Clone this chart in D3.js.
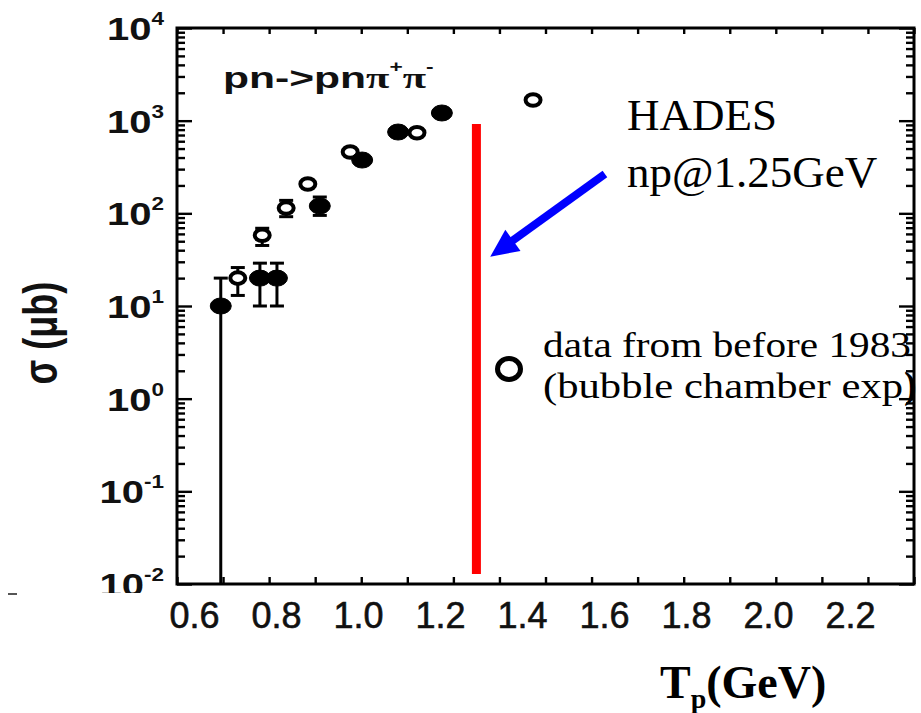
<!DOCTYPE html>
<html>
<head>
<meta charset="utf-8">
<script src="https://cdn.jsdelivr.net/npm/d3@7"></script>
<style>
  body { margin: 0; background: #fff; }
  svg { display: block; }
</style>
</head>
<body>
<svg id="chart" width="921" height="713"></svg>
<script>
// pn -> pn pi+ pi- total cross section vs beam kinetic energy

// open circles: bubble chamber data (before 1983)
const openT  = [0.732, 0.785, 0.837, 0.884, 0.976, 1.121, 1.373];
const openS  = [20, 58, 114, 207, 459, 740, 1670];
const openLo = [13, 45, 92, 207, 459, 740, 1670];
const openHi = [26, 69, 138, 207, 459, 740, 1670];

// filled circles: other measurements
const filledT  = [0.695, 0.780, 0.817, 0.910, 1.002, 1.080, 1.175];
const filledS  = [10, 20, 20, 120, 376, 754, 1210];
const filledLo = [0.01, 10, 10, 95, 376, 754, 1210];
const filledHi = [20, 29, 29, 150, 376, 754, 1210];

// HADES beam energy marker
const hadesT = 1.25;
const hadesRange = [0.0128, 920];
// arrow pointing at the marker: [T, sigma] of tail and tip
const arrowTail = [1.529, 265];
const arrowTip  = [1.280, 34];

// axis ticks
const xMinorTicks = [0.6,0.7,0.8,0.9,1.0,1.1,1.2,1.3,1.4,1.5,1.6,1.7,1.8,1.9,2.0,2.1,2.2];
const xTickLabels = [0.6, 0.8, 1.0, 1.2, 1.4, 1.6, 1.8, 2.0, 2.2];
const yDecades = [-2, -1, 0, 1, 2, 3, 4];

const svg = d3.select("#chart");

const x = d3.scaleLinear().domain([0.6, 2.2]).range([177, 914]);
const xLab = d3.scaleLinear().domain([0.6, 2.2]).range([194, 850]);
const y = d3.scaleLog().domain([1e-2, 1e4]).range([584, 28]);

const yMinor = [];
yDecades.slice(0, -1).forEach(d => {
  for (let k = 2; k <= 9; k++) yMinor.push(k * Math.pow(10, d));
});
const yMajor = yDecades.map(d => Math.pow(10, d));

const plotL = x.range()[0], plotR = x.range()[1];
const plotT = y.range()[1], plotB = y.range()[0];

// tick marks on all four sides, pointing inward
function ticks(g) {
  g.select(".domain").remove();
  g.selectAll("line").attr("stroke", "#000").attr("stroke-width", 2.4);
}
svg.append("g").attr("transform", `translate(0,${plotB})`)
  .call(d3.axisBottom(x).tickValues(xMinorTicks).tickSize(-7).tickFormat(""))
  .call(ticks);
svg.append("g").attr("transform", `translate(0,${plotT})`)
  .call(d3.axisTop(x).tickValues(xMinorTicks).tickSize(-6).tickFormat(""))
  .call(ticks);
[[d3.axisLeft, plotL], [d3.axisRight, plotR]].forEach(([ax, px]) => {
  svg.append("g").attr("transform", `translate(${px},0)`)
    .call(ax(y).tickValues(yMajor).tickSize(-15).tickFormat(""))
    .call(ticks);
  svg.append("g").attr("transform", `translate(${px},0)`)
    .call(ax(y).tickValues(yMinor).tickSize(-8).tickFormat(""))
    .call(ticks);
});

// frame
svg.append("rect")
  .attr("x", plotL).attr("y", plotT)
  .attr("width", plotR - plotL).attr("height", plotB - plotT)
  .attr("fill", "none").attr("stroke", "#000").attr("stroke-width", 3);

// x tick labels
const xl = svg.append("g").attr("transform", `translate(0,${plotB})`)
  .call(d3.axisBottom(xLab).tickValues(xTickLabels).tickSize(0).tickFormat(d3.format(".1f")));
xl.select(".domain").remove();
xl.selectAll("text")
  .attr("y", 44).attr("dy", null)
  .attr("fill", "#111")
  .style("font-family", "'Liberation Sans', Arial, sans-serif")
  .style("font-size", "36px")
  .style("stroke", "#111").style("stroke-width", 0.6);

// y tick labels: 10^n
const yl = svg.append("g").selectAll("g").data(yDecades).join("g")
  .attr("transform", d => `translate(164,${y(Math.pow(10, d)) + 12}) scale(1.25,1)`);
const ytxt = yl.append("text")
  .attr("text-anchor", "end")
  .attr("fill", "#111")
  .style("font-family", "'Liberation Sans', Arial, sans-serif")
  .style("font-weight", "bold")
  .style("font-size", "32px");
ytxt.append("tspan").text("10");
ytxt.append("tspan").attr("dy", -15).style("font-size", "18px").text(d => d);

// bottom label is cut off just under the axis
svg.append("rect").attr("x", 60).attr("y", 593).attr("width", 112).attr("height", 8).attr("fill", "#fff");
svg.append("line").attr("x1", 8).attr("x2", 17).attr("y1", 594).attr("y2", 594)
  .attr("stroke", "#555").attr("stroke-width", 2);

// y axis title
svg.append("text")
  .attr("transform", "translate(57,333) rotate(-90) scale(1.03,1.38)")
  .attr("text-anchor", "middle")
  .attr("fill", "#111")
  .style("font-family", "'Liberation Sans', Arial, sans-serif")
  .style("font-weight", "bold")
  .style("font-size", "35px")
  .text("σ (μb)");

// reaction label
const title = svg.append("text")
  .attr("transform", "translate(223,88) scale(1.42,1)")
  .attr("fill", "#111")
  .style("font-family", "'Liberation Sans', Arial, sans-serif")
  .style("font-weight", "bold")
  .style("font-size", "30px");
title.append("tspan").text("pn->pn");
title.append("tspan").style("font-family", "'Liberation Serif', serif").text("π");
title.append("tspan").attr("dy", -16).style("font-size", "16px").text("+");
title.append("tspan").attr("dy", 16).style("font-family", "'Liberation Serif', serif").text("π");
title.append("tspan").attr("dy", -16).style("font-size", "16px").text("-");

// data points with error bars
function series(T, S, Lo, Hi, filled) {
  const pts = T.map((t, i) => ({ t, s: S[i], lo: Lo[i], hi: Hi[i] }));
  const g = svg.append("g");
  const withErr = pts.filter(p => p.hi > p.s || p.lo < p.s);
  g.selectAll(".eb").data(withErr).join("line")
    .attr("x1", p => x(p.t)).attr("x2", p => x(p.t))
    .attr("y1", p => y(p.hi)).attr("y2", p => y(p.lo))
    .attr("stroke", "#000").attr("stroke-width", 3);
  g.selectAll(".capHi").data(withErr).join("line")
    .attr("x1", p => x(p.t) - 7).attr("x2", p => x(p.t) + 7)
    .attr("y1", p => y(p.hi)).attr("y2", p => y(p.hi))
    .attr("stroke", "#000").attr("stroke-width", 3);
  g.selectAll(".capLo").data(withErr.filter(p => p.lo > 0.01)).join("line")
    .attr("x1", p => x(p.t) - 7).attr("x2", p => x(p.t) + 7)
    .attr("y1", p => y(p.lo)).attr("y2", p => y(p.lo))
    .attr("stroke", "#000").attr("stroke-width", 3);
  g.selectAll("ellipse").data(pts).join("ellipse")
    .attr("cx", p => x(p.t)).attr("cy", p => y(p.s))
    .attr("rx", filled ? 10.5 : 7.5).attr("ry", filled ? 8 : 5.8)
    .attr("fill", filled ? "#000" : "#fff")
    .attr("stroke", "#000").attr("stroke-width", filled ? 1 : 4);
}
series(openT, openS, openLo, openHi, false);
series(filledT, filledS, filledLo, filledHi, true);

// HADES energy line
svg.append("line")
  .attr("x1", x(hadesT)).attr("x2", x(hadesT))
  .attr("y1", y(hadesRange[0])).attr("y2", y(hadesRange[1]))
  .attr("stroke", "#ff0000").attr("stroke-width", 9);

// arrow
(function () {
  const x0 = x(arrowTail[0]), y0 = y(arrowTail[1]);
  const x1 = x(arrowTip[0]), y1 = y(arrowTip[1]);
  const len = Math.hypot(x1 - x0, y1 - y0);
  const ux = (x1 - x0) / len, uy = (y1 - y0) / len;
  const headLen = 28, headHalf = 13;
  const bx = x1 - ux * headLen, by = y1 - uy * headLen;
  svg.append("line")
    .attr("x1", x0).attr("y1", y0).attr("x2", bx + ux * 2).attr("y2", by + uy * 2)
    .attr("stroke", "#0000ff").attr("stroke-width", 8);
  svg.append("path")
    .attr("d", `M${x1},${y1}L${bx - uy * headHalf},${by + ux * headHalf}L${bx + uy * headHalf},${by - ux * headHalf}Z`)
    .attr("fill", "#0000ff");
})();

// annotations
const serif = "'Liberation Serif', 'Times New Roman', serif";
svg.append("text").attr("x", 627).attr("y", 130)
  .style("font-family", serif).style("font-size", "45px").attr("fill", "#000")
  .text("HADES");
svg.append("text").attr("x", 627).attr("y", 187)
  .style("font-family", serif).style("font-size", "45px").attr("fill", "#000")
  .text("np@1.25GeV");

// legend
svg.append("ellipse").attr("cx", 509).attr("cy", 369).attr("rx", 11.5).attr("ry", 10.5)
  .attr("fill", "none").attr("stroke", "#000").attr("stroke-width", 5);
svg.append("text").attr("x", 543).attr("y", 357)
  .attr("textLength", 368).attr("lengthAdjust", "spacingAndGlyphs")
  .style("font-family", serif).style("font-size", "36px").attr("fill", "#000")
  .text("data from before 1983");
svg.append("text").attr("x", 543).attr("y", 398)
  .attr("textLength", 360).attr("lengthAdjust", "spacingAndGlyphs")
  .style("font-family", serif).style("font-size", "36px").attr("fill", "#000")
  .text("(bubble chamber exp");
svg.append("text").attr("x", 904).attr("y", 398)
  .style("font-family", serif).style("font-weight", "bold").style("font-size", "38px").attr("fill", "#000")
  .text(")");

// x axis title
const xt = svg.append("text").attr("x", 660).attr("y", 698)
  .style("font-family", serif).style("font-weight", "bold").style("font-size", "46px").attr("fill", "#000");
xt.append("tspan").text("T");
xt.append("tspan").attr("dy", 10).style("font-size", "28px").text("p");
xt.append("tspan").attr("dy", -10).text("(GeV)");
</script>
</body>
</html>
